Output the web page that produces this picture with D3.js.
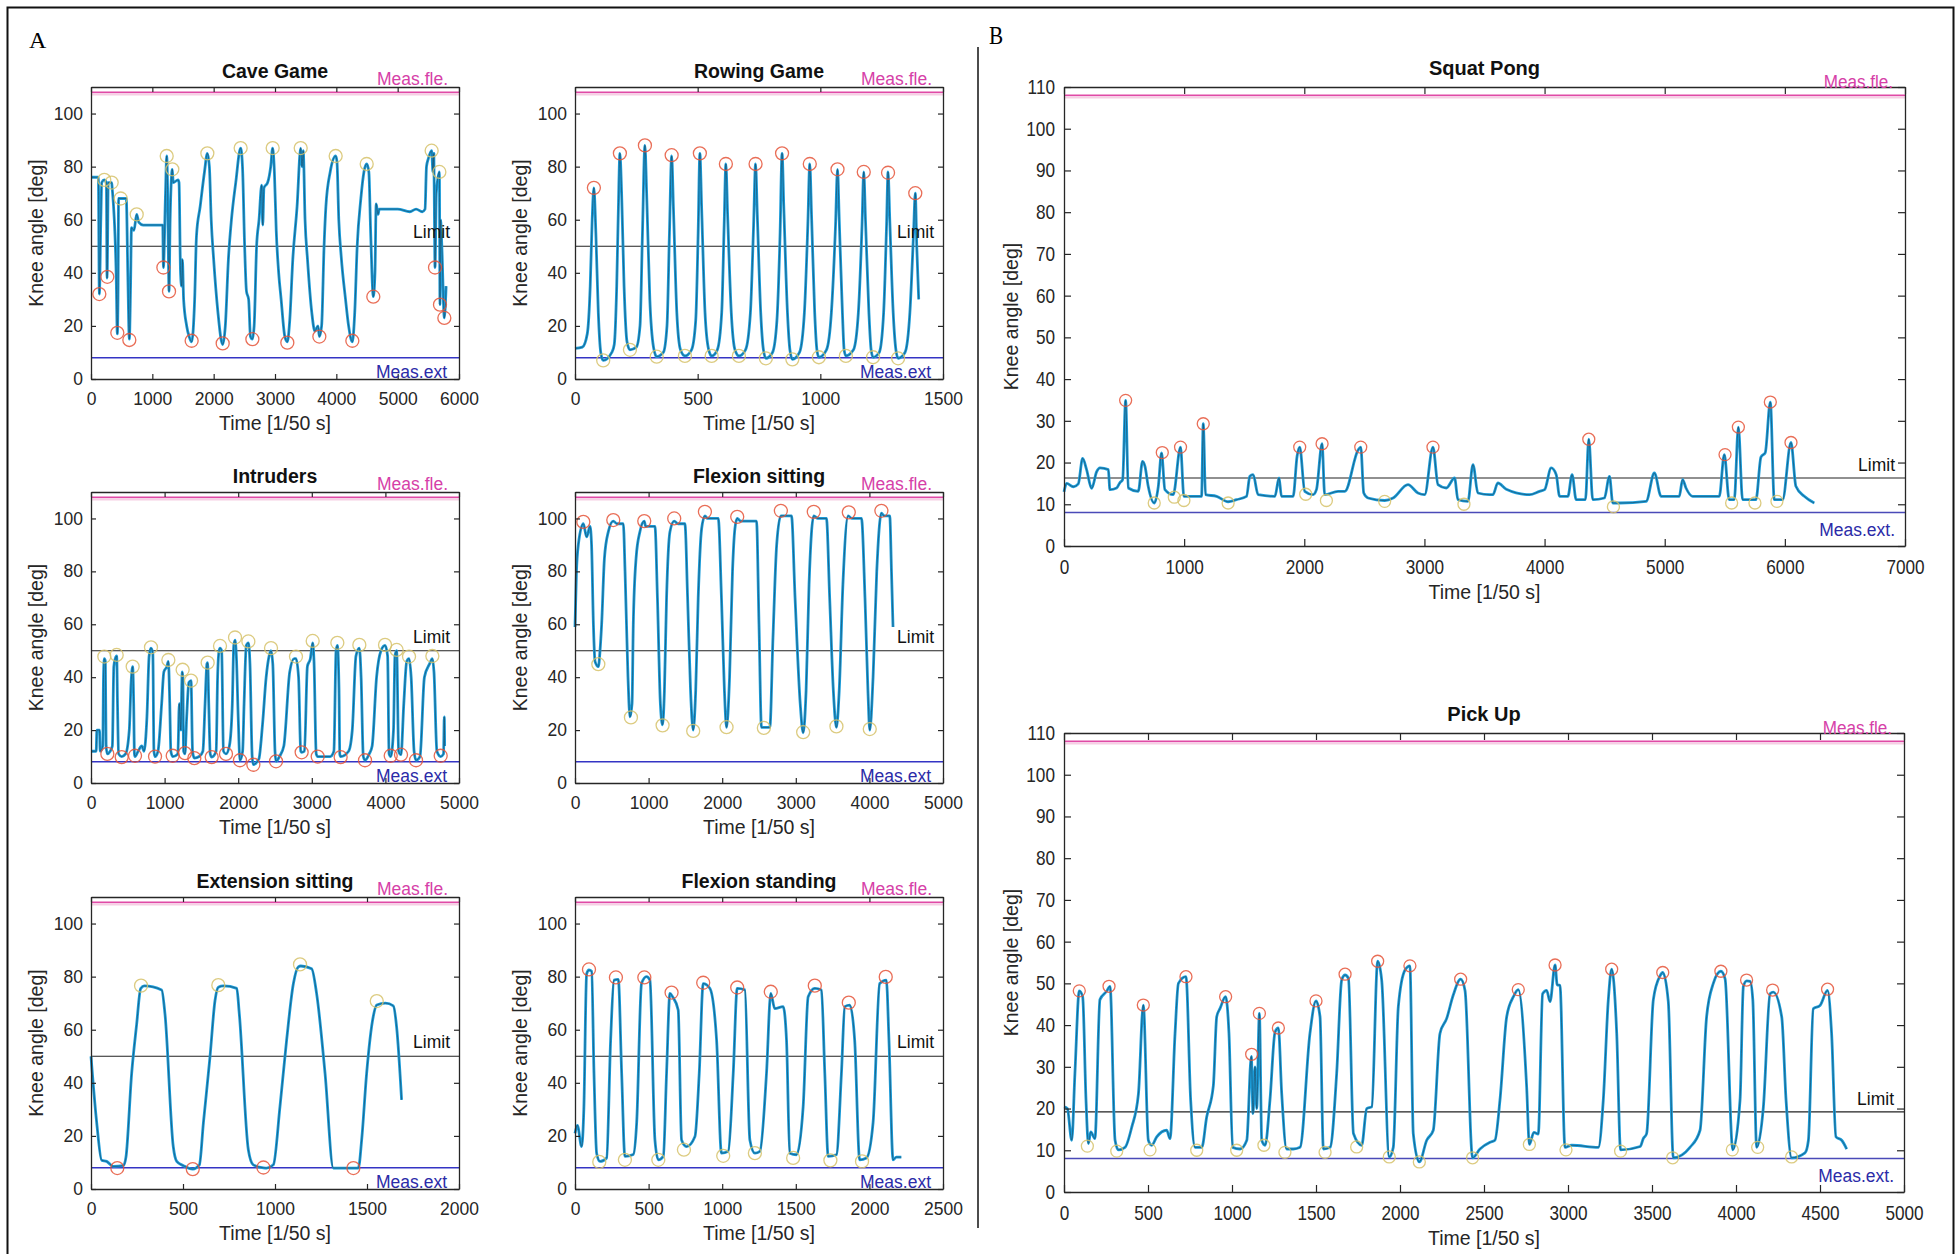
<!DOCTYPE html>
<meta charset="utf-8">
<title>Knee angle per game</title>

<style>
body{
	margin: 0;
	background: white;
}
</style>

<body>

<script src="https://d3js.org/d3.v7.min.js"></script>

<script>

// ---- data: [time in 1/50 s, knee angle in deg] ----

var measFle = 108;
var measExt = 8;

var titles = ['Cave Game', 'Rowing Game', 'Intruders', 'Flexion sitting', 'Extension sitting', 'Flexion standing', 'Squat Pong', 'Pick Up'];
var limits = [50, 50, 50, 50, 50, 50, 16.3, 19.2];

var ticks6000 = [0, 1000, 2000, 3000, 4000, 5000, 6000];
var ticks1500 = [0, 500, 1000, 1500];
var ticks5000 = [0, 1000, 2000, 3000, 4000, 5000];
var ticks2000 = [0, 500, 1000, 1500, 2000];
var ticks2500 = [0, 500, 1000, 1500, 2000, 2500];
var ticks7000 = [0, 1000, 2000, 3000, 4000, 5000, 6000, 7000];
var ticks5000b = [0, 500, 1000, 1500, 2000, 2500, 3000, 3500, 4000, 4500, 5000];
var yticksA = [0, 20, 40, 60, 80, 100];
var yticksB = [0, 10, 20, 30, 40, 50, 60, 70, 80, 90, 100, 110];

var caveGame = [[0,76],[120,76],[136,32],[160,60],[175,74],[217,75],[250,74],[262,38],[270,50],[280,74],[337,74],[345,72],[410,40],[429,17],[440,30],[450,68],[575,68],[600,40],[625,15],[645,35],[660,57],[700,56],[745,62],[780,59],[850,58],[1170,58],[1180,42],[1215,70],[1234,84],[1250,70],[1265,40],[1272,33],[1290,60],[1326,79],[1340,74],[1420,75],[1435,74],[1460,40],[1478,35],[1490,45],[1510,30],[1560,20],[1600,16],[1641,14],[1690,30],[1720,54],[1780,65],[1850,78],[1897,85],[1930,80],[1960,60],[2000,45],[2070,25],[2120,15],[2147,13],[2190,20],[2240,45],[2290,60],[2360,74],[2440,87],[2470,80],[2505,50],[2535,33],[2570,30],[2600,16],[2631,15],[2660,20],[2700,50],[2740,60],[2783,73],[2800,58],[2820,72],[2880,74],[2930,80],[2962,87],[2990,78],[3020,56],[3060,40],[3100,30],[3160,16],[3201,14],[3240,22],[3290,45],[3360,65],[3419,87],[3440,80],[3460,86],[3490,60],[3530,45],[3600,25],[3650,18],[3700,20],[3723,16],[3760,20],[3800,50],[3830,65],[3900,78],[3989,84],[4010,82],[4040,60],[4080,46],[4150,30],[4200,20],[4261,14],[4300,25],[4340,50],[4400,68],[4450,78],[4495,81],[4530,78],[4560,55],[4603,31],[4630,40],[4650,66],[4680,62],[4700,64],[5000,64],[5200,63],[5300,64],[5400,63],[5446,64],[5470,80],[5500,83],[5554,86],[5575,78],[5590,85],[5600,60],[5609,42],[5630,70],[5680,78],[5690,28],[5700,60],[5720,50],[5761,23],[5790,35]];
var caveGamePeaks = [[217,75],[337,74],[484,68],[745,62],[1234,84],[1326,79],[1897,85],[2440,87],[2962,87],[3419,87],[3989,84],[4495,81],[5554,86],[5680,78]];
var caveGameValleys = [[136,32],[266,38.5],[429,17.4],[625,14.7],[1180,42],[1272,33],[1641,14.4],[2147,13.4],[2631,15],[3201,13.7],[3723,16],[4261,14.4],[4603,31],[5609,42],[5690,28],[5761,23]];

var rowingGame = [[0,11.5],[30,12],[50,17],[62,35],[70,60],[77,72],[85,55],[95,25],[105,10],[115,7],[150,10],[160,13],[170,35],[177,65],[183,85],[190,70],[200,35],[212,14],[224,11],[250,12],[265,20],[275,55],[285,88],[292,70],[305,30],[320,12],[333,8.4],[360,10],[375,20],[385,55],[394,84],[401,65],[415,25],[430,11],[448,8.7],[475,11],[492,22],[502,55],[509,85],[516,65],[530,25],[545,11],[557,8.7],[580,11],[598,25],[608,58],[615,81],[622,62],[637,25],[652,11],[668,8.7],[695,11],[715,25],[728,58],[736,81],[743,62],[757,25],[768,11],[778,7.8],[805,10],[823,22],[836,55],[844,85],[851,65],[866,25],[876,11],[886,7.4],[915,10],[935,25],[949,58],[957,81],[964,62],[977,25],[986,11],[994,8.2],[1025,11],[1045,25],[1062,58],[1070,79],[1077,60],[1090,25],[1097,11],[1104,8.7],[1135,11],[1155,25],[1170,58],[1177,78],[1184,60],[1198,25],[1207,11],[1215,8.2],[1240,10],[1258,25],[1270,58],[1276,78],[1283,60],[1297,25],[1308,11],[1317,7.8],[1345,10],[1365,25],[1380,55],[1387,70],[1393,50],[1401,30]];
var rowingGamePeaks = [[77,72],[183,85],[285,88],[394,84.3],[509,85],[615,81],[736,81],[844,85],[957,81],[1070,79],[1177,78],[1276,77.7],[1387,70]];
var rowingGameValleys = [[115,7],[224,11],[333,8.4],[448,8.7],[557,8.7],[668,8.7],[778,7.8],[886,7.4],[994,8.2],[1104,8.7],[1215,8.2],[1317,7.8]];

var intruders = [[0,12],[70,12],[80,20],[115,20],[125,12],[160,14],[170,40],[181,47],[195,46],[205,14],[222,11],[260,12],[290,14],[310,44],[330,47],[349,48],[360,30],[375,11],[417,10],[470,11],[520,20],[545,38],[566,44],[580,30],[590,11],[598,10],[640,12],[690,14],[720,12],[760,25],[790,48],[815,51],[840,49],[855,12],[870,10],[910,12],[960,30],[990,42],[1030,44],[1051,46],[1070,30],[1085,12],[1110,10],[1180,11],[1200,30],[1220,20],[1240,42],[1248,40],[1258,12],[1277,11],[1300,25],[1330,38],[1359,38.7],[1380,12],[1404,9.4],[1470,10],[1520,12],[1550,30],[1575,45],[1585,45.5],[1600,30],[1620,11],[1640,9.8],[1700,12],[1720,40],[1740,50],[1753,51],[1775,50],[1800,12],[1834,11],[1880,14],[1920,30],[1940,52],[1957,54],[1975,48],[2000,25],[2024,8.6],[2060,12],[2080,30],[2110,52],[2138,53],[2160,45],[2190,10],[2206,7],[2280,9],[2330,22],[2380,40],[2420,48],[2446,50],[2470,45],[2500,12],[2514,8.2],[2560,10],[2620,14],[2700,42],[2760,47],[2785,47],[2820,40],[2850,12],[2862,11.6],[2900,12],[2940,44],[2980,47],[3012,53],[3030,46],[3060,11],[3080,10],[3250,10],[3300,12],[3330,50],[3347,52],[3370,35],[3380,11],[3392,10],[3500,12],[3550,20],[3600,48],[3646,51],[3670,40],[3700,10],[3723,8.6],[3780,11],[3820,14],[3880,40],[3940,50],[3995,52],[4030,48],[4050,11],[4072,10],[4110,20],[4130,48],[4153,50],[4180,12],[4212,10.7],[4250,30],[4290,46],[4321,47],[4350,40],[4390,12],[4416,8.6],[4470,10],[4530,40],[4600,45],[4638,47],[4660,42],[4700,12],[4751,10],[4790,11],[4800,25],[4805,14]];
var intrudersPeaks = [[181,47.8],[349,48.4],[566,44],[815,51.3],[1051,46.5],[1245,42.8],[1359,38.7],[1585,45.5],[1753,51.8],[1957,55],[2138,53.5],[2446,51],[2785,47.8],[3012,53.7],[3347,53],[3646,52.2],[3995,52.2],[4153,50.3],[4321,47.8],[4638,48]];
var intrudersValleys = [[222,11],[417,9.8],[598,10.3],[870,10],[1110,10.3],[1277,11.3],[1404,9.4],[1640,9.8],[1834,11],[2024,8.6],[2206,6.9],[2514,8.2],[2862,11.6],[3080,10],[3392,9.8],[3723,8.6],[4072,10.3],[4212,10.7],[4416,8.6],[4751,10.3]];

var flexionSitting = [[0,59],[20,80],[45,90],[113,98],[158,93],[204,97],[225,90],[250,60],[272,46],[317,44],[340,50],[362,60],[400,85],[453,95],[520,99],[570,98],[656,98],[680,80],[720,40],[747,25],[775,30],[792,60],[830,85],[882,95],[941,99],[960,97],[1086,97],[1120,70],[1160,30],[1190,22],[1215,35],[1244,70],[1290,95],[1348,99],[1400,98],[1493,98],[1530,70],[1570,35],[1606,20],[1640,35],[1674,70],[1720,96],[1765,101],[1800,100],[1946,100],[1990,70],[2030,35],[2059,21],[2100,40],[2140,80],[2172,96],[2204,100],[2250,99],[2466,99],[2500,60],[2534,21],[2647,21],[2690,55],[2740,90],[2797,101],[2850,101],[2941,101],[2990,70],[3060,30],[3100,19],[3140,35],[3180,75],[3244,101],[3300,100],[3416,100],[3460,70],[3510,35],[3552,21],[3590,35],[3640,75],[3711,101],[3760,100],[3892,100],[3940,70],[3980,35],[4005,20],[4050,40],[4100,80],[4163,102],[4200,101],[4276,101],[4300,80],[4321,59]];
var flexionSittingPeaks = [[113,98.7],[520,99.4],[941,99],[1348,100],[1765,102.5],[2204,100.6],[2797,102.9],[3244,102.5],[3720,102.3],[4163,102.9]];
var flexionSittingValleys = [[317,44.9],[760,24.8],[1190,21.8],[1606,19.7],[2059,21.1],[2566,20.8],[3100,19.2],[3552,21.4],[4005,20.4]];

var extensionSitting = [[0,50],[31,25],[58,10.8],[85,10.4],[121,8.5],[176,8.8],[190,12],[221,43.6],[248,62],[270,75.5],[290,76.5],[384,75],[402,66],[447,16],[466,10.4],[502,8.8],[553,7.5],[589,9.1],[611,25],[647,50],[674,71],[692,76],[720,76.5],[792,75.6],[806,66],[855,14.8],[882,9.1],[937,8],[955,7.9],[991,9.1],[1027,31],[1063,56],[1100,77.4],[1127,83.7],[1140,84],[1199,83],[1226,73.7],[1272,43.6],[1317,7.9],[1453,7.9],[1471,18.5],[1498,43.6],[1534,65],[1553,69.3],[1600,70],[1643,69],[1661,61],[1688,33.6]];
var extensionSittingPeaks = [[272,76.6],[692,76.8],[1136,84.6],[1553,70.8]];
var extensionSittingValleys = [[143,7.9],[553,7.5],[937,8.1],[1426,7.9]];

var flexionStanding = [[0,21],[16,24],[45,16],[60,30],[79,81],[95,82.5],[113,82],[129,43.6],[147,13.5],[170,10.4],[215,11.7],[242,56],[265,78.7],[294,79],[317,43.6],[339,12.3],[396,13],[419,25],[452,77.4],[486,80],[509,78.7],[543,18.5],[566,11],[600,12.3],[622,43.6],[645,73.7],[663,72.4],[701,67.4],[724,18.5],[758,16],[815,19.8],[844,43.6],[871,77.4],[916,75.6],[962,56],[995,13.5],[1041,14.2],[1075,43.6],[1102,75.6],[1154,75],[1188,18.5],[1222,13.5],[1256,14.2],[1301,43.6],[1330,73.7],[1357,68],[1414,68.7],[1437,56],[1459,13.5],[1505,12.9],[1550,31],[1584,72.4],[1629,75.6],[1674,75],[1697,43.6],[1720,12.3],[1776,12.9],[1810,43.6],[1833,68.7],[1867,69.3],[1900,56],[1934,11],[1980,11.7],[2025,25],[2070,77.4],[2115,78.7],[2133,56],[2161,11],[2183,12],[2217,12]];
var flexionStandingPeaks = [[95,82.7],[278,79.7],[471,79.7],[656,74],[871,77.7],[1102,75.9],[1330,74.3],[1629,76.6],[1860,70.2],[2111,79.9]];
var flexionStandingValleys = [[165,10.2],[339,11],[566,11],[740,14.8],[1007,12.5],[1222,13.5],[1482,11.7],[1735,10.8],[1950,10.4]];

var squatPong = [[0,13],[22,15],[78,14.2],[119,14.9],[155,21],[188,18.3],[230,13.8],[272,17.8],[299,18.7],[369,18.3],[382,13.5],[438,13.9],[466,15.2],[488,15.9],[513,34.9],[535,13.9],[618,13.1],[654,20.3],[674,19.1],[701,14.3],[751,10.3],[785,14.3],[812,22.3],[840,13.5],[909,12.3],[970,23.7],[998,11.9],[1075,11.9],[1145,11.9],[1159,29.3],[1178,12.3],[1270,11.9],[1366,10.6],[1436,11.1],[1519,11.9],[1547,16.7],[1574,17.1],[1616,12.3],[1755,11.9],[1790,16.3],[1810,11.9],[1907,11.9],[1940,21.5],[1962,23.7],[2004,13.1],[2073,12.3],[2101,13.5],[2148,24.5],[2170,12.3],[2281,13.1],[2337,13.1],[2448,23],[2470,23.7],[2495,12.7],[2531,11.5],[2669,10.9],[2739,11.5],[2863,14.7],[2946,12.7],[3002,12.3],[3071,23.7],[3113,14.7],[3182,13.9],[3251,16.3],[3279,11.1],[3362,10.7],[3404,19.5],[3445,12.7],[3542,12.3],[3570,12.3],[3611,15.1],[3681,13.6],[3875,12.3],[3958,13.1],[4000,13.5],[4055,18.7],[4097,17.1],[4125,11.9],[4194,11.9],[4229,17.1],[4263,11.1],[4340,11.1],[4368,25.6],[4401,11.1],[4498,11.5],[4540,16.7],[4568,10.3],[4623,10.3],[4845,10.7],[4914,17.5],[4970,11.9],[5121,11.9],[5149,15.9],[5177,13.9],[5232,11.9],[5454,11.9],[5496,21.9],[5537,11.1],[5579,11.1],[5613,28.5],[5648,11.1],[5759,11.1],[5801,21.3],[5837,22.4],[5879,34.5],[5912,11.1],[5981,11.1],[6051,24.8],[6092,14.3],[6162,11.9],[6245,10.3]];
var squatPongPeaks = [[513,34.9],[818,22.4],[970,23.7],[1159,29.3],[1962,23.7],[2148,24.5],[2470,23.7],[3071,23.7],[4368,25.6],[5502,21.9],[5613,28.5],[5879,34.5],[6051,24.8]];
var squatPongValleys = [[751,10.3],[918,11.7],[998,10.9],[1366,10.3],[2012,12.4],[2184,10.9],[2669,10.7],[3329,10],[4573,9.4],[5557,10.3],[5751,10.3],[5934,10.7]];

var pickUp = [[0,20.4],[20,20],[46,12.4],[65,28.4],[91,48.2],[111,46.8],[131,22],[145,11.6],[159,14.4],[184,12.8],[214,46.1],[254,48.1],[274,49.3],[304,12.4],[324,10.1],[363,10.7],[403,15.5],[443,23.5],[472,44.8],[502,12.4],[522,11.2],[552,13.2],[611,14.8],[631,12.8],[661,38],[681,50],[726,51.6],[754,22],[780,10.7],[820,10.7],[849,17.9],[889,25.5],[909,42],[929,44],[962,46.8],[982,38],[1004,10.7],[1048,10.3],[1088,12.4],[1115,32.5],[1125,18.8],[1137,30],[1147,20],[1163,42.8],[1177,12.4],[1197,11.2],[1226,22],[1256,38.3],[1276,39.3],[1296,23.5],[1325,10.3],[1365,10.3],[1405,10.7],[1464,38],[1500,45.8],[1524,42],[1544,10.3],[1584,10.7],[1623,28.4],[1653,50.8],[1673,52],[1693,51.2],[1723,14],[1772,11.2],[1802,20],[1832,20.4],[1867,55.3],[1891,50.8],[1936,8.4],[1960,10.7],[1990,44.4],[2030,53.2],[2059,54.2],[2079,14],[2115,7.2],[2159,12.4],[2198,14.8],[2238,38],[2278,41.6],[2317,47.2],[2361,51],[2387,48.3],[2432,8.2],[2476,10.3],[2536,11.9],[2565,12.4],[2595,22],[2635,42],[2675,46.8],[2704,48.5],[2754,25.1],[2770,11.4],[2797,14.3],[2823,13.9],[2849,47.5],[2873,48.3],[2893,45.6],[2923,54.4],[2936,49.6],[2952,49.6],[2982,10.7],[3022,11.2],[3181,10.7],[3210,22],[3240,46.1],[3260,53.4],[3290,38],[3313,10.1],[3430,10.9],[3448,12.8],[3468,14],[3508,46.1],[3548,51.8],[3564,52.6],[3597,45.6],[3627,8.2],[3726,10.7],[3786,14.8],[3825,42],[3865,50],[3910,52.9],[3935,51.1],[3981,10.1],[4024,22],[4044,49.3],[4064,50.6],[4084,50.5],[4100,46.1],[4123,10.7],[4163,20.4],[4203,47.5],[4222,47.9],[4272,42],[4298,22],[4331,8.2],[4411,9.4],[4431,12.4],[4460,43.9],[4500,44.7],[4545,48.3],[4569,38],[4595,13.2],[4629,12.4],[4659,10.3]];
var pickUpPeaks = [[91,48.2],[268,49.3],[472,44.8],[726,51.6],[962,46.8],[1117,33],[1163,42.8],[1276,39.3],[1500,45.8],[1673,52.2],[1867,55.3],[2059,54.2],[2361,51],[2704,48.5],[2923,54.4],[3260,53.4],[3564,52.6],[3910,52.9],[4063,50.8],[4218,48.4],[4545,48.6]];
var pickUpValleys = [[139,11],[314,9.8],[512,10.1],[790,10],[1028,10],[1190,11.2],[1315,9.5],[1554,9.5],[1742,10.8],[1936,8.4],[2115,7.2],[2432,8.2],[2770,11.4],[2988,10.1],[3313,9.8],[3623,8.2],[3978,10.1],[4129,10.7],[4331,8.4]];


// ---- layout and styles ----

var width = 1959;
var height = 1254;

var red = '#e5553a';
var yellow = '#d6c26a';
var fontfamily = '"Liberation Sans", Arial, sans-serif';

var panels = [
	{series: caveGame, peaks: caveGamePeaks, valleys: caveGameValleys, xticks: ticks6000, left: 91, right: 459, top: 87, bottom: 379, peakcolor: yellow, valleycolor: red},
	{series: rowingGame, peaks: rowingGamePeaks, valleys: rowingGameValleys, xticks: ticks1500, left: 575, right: 943, top: 87, bottom: 379, peakcolor: red, valleycolor: yellow},
	{series: intruders, peaks: intrudersPeaks, valleys: intrudersValleys, xticks: ticks5000, left: 91, right: 459, top: 492, bottom: 783, peakcolor: yellow, valleycolor: red},
	{series: flexionSitting, peaks: flexionSittingPeaks, valleys: flexionSittingValleys, xticks: ticks5000, left: 575, right: 943, top: 492, bottom: 783, peakcolor: red, valleycolor: yellow},
	{series: extensionSitting, peaks: extensionSittingPeaks, valleys: extensionSittingValleys, xticks: ticks2000, left: 91, right: 459, top: 897, bottom: 1189, peakcolor: yellow, valleycolor: red},
	{series: flexionStanding, peaks: flexionStandingPeaks, valleys: flexionStandingValleys, xticks: ticks2500, left: 575, right: 943, top: 897, bottom: 1189, peakcolor: red, valleycolor: yellow},
	{series: squatPong, peaks: squatPongPeaks, valleys: squatPongValleys, xticks: ticks7000, left: 1064, right: 1905, top: 87, bottom: 546, peakcolor: red, valleycolor: yellow, big: true},
	{series: pickUp, peaks: pickUpPeaks, valleys: pickUpValleys, xticks: ticks5000b, left: 1064, right: 1904, top: 733, bottom: 1192, peakcolor: red, valleycolor: yellow, big: true}
];

var svg = d3.select('body')
	.append('svg')
	.attr('width', width)
	.attr('height', height)
	.style('font-family', fontfamily);

// outer frame and divider
svg.append('rect')
	.attr('x', 7.5).attr('y', 7.5)
	.attr('width', 1946).attr('height', 1256)
	.attr('fill', 'none')
	.attr('stroke', '#111')
	.attr('stroke-width', 2);

svg.append('line')
	.attr('x1', 978).attr('x2', 978)
	.attr('y1', 47).attr('y2', 1228)
	.attr('stroke', '#111')
	.attr('stroke-width', 1.5);

svg.append('text')
	.attr('x', 29).attr('y', 48)
	.attr('font-family', '"Liberation Serif", "Times New Roman", serif')
	.attr('font-size', 24)
	.text('A');

svg.append('text')
	.attr('x', 0).attr('y', 0)
	.attr('transform', 'translate(989,44) scale(0.85,1)')
	.attr('font-family', '"Liberation Serif", "Times New Roman", serif')
	.attr('font-size', 25)
	.text('B');

// narrow the text of the B panels, which look condensed in the figure
function squeeze(sel, sx){
	sel.each(function(){
		var t = d3.select(this);
		var x0 = +t.attr('x') || 0;
		var y0 = +t.attr('y') || 0;
		t.attr('x', 0).attr('y', 0)
			.attr('transform', 'translate(' + x0 + ',' + y0 + ') scale(' + sx + ',1)');
	});
}

function drawpanel(p, i){
	var big = !!p.big;
	var x = d3.scaleLinear()
		.domain([0, p.xticks[p.xticks.length - 1]])
		.range([p.left, p.right]);
	var y = d3.scaleLinear()
		.domain([0, 110])
		.range([p.bottom, p.top]);

	var g = svg.append('g');

	// reference lines
	g.append('line')
		.attr('x1', p.left).attr('x2', p.right)
		.attr('y1', y(measFle) + 2.5).attr('y2', y(measFle) + 2.5)
		.attr('stroke', '#f6cfe3').attr('stroke-width', 1.5);
	g.append('line')
		.attr('x1', p.left).attr('x2', p.right)
		.attr('y1', y(measFle)).attr('y2', y(measFle))
		.attr('stroke', '#e04aa6').attr('stroke-width', 1.8);
	g.append('line')
		.attr('x1', p.left).attr('x2', p.right)
		.attr('y1', y(measExt)).attr('y2', y(measExt))
		.attr('stroke', big ? '#4a4ab8' : '#3434c4').attr('stroke-width', 1.5);
	g.append('line')
		.attr('x1', p.left).attr('x2', p.right)
		.attr('y1', y(limits[i])).attr('y2', y(limits[i]))
		.attr('stroke', '#222').attr('stroke-width', 1.2);

	// knee angle trace: blue raw with a dark thin filtered line on top
	var line = d3.line()
		.x(function(d){ return x(d[0]); })
		.y(function(d){ return y(d[1]); })
		.curve(d3.curveMonotoneX);

	g.append('path')
		.datum(p.series)
		.attr('d', line)
		.attr('fill', 'none')
		.attr('stroke', '#1b9ddb')
		.attr('stroke-width', 2.8)
		.attr('stroke-linejoin', 'round');
	g.append('path')
		.datum(p.series)
		.attr('d', line)
		.attr('fill', 'none')
		.attr('stroke', '#1d3646')
		.attr('stroke-opacity', 0.75)
		.attr('stroke-width', 0.7)
		.attr('stroke-linejoin', 'round');

	// detected extrema
	var r = big ? 6 : 6.5;
	g.selectAll('circle.peak')
		.data(p.peaks)
		.enter()
		.append('circle')
		.attr('class', 'peak')
		.attr('cx', function(d){ return x(d[0]); })
		.attr('cy', function(d){ return y(d[1]); })
		.attr('r', r)
		.attr('fill', 'none')
		.attr('stroke', p.peakcolor)
		.attr('stroke-opacity', 0.85)
		.attr('stroke-width', 1.3);
	g.selectAll('circle.valley')
		.data(p.valleys)
		.enter()
		.append('circle')
		.attr('class', 'valley')
		.attr('cx', function(d){ return x(d[0]); })
		.attr('cy', function(d){ return y(d[1]); })
		.attr('r', r)
		.attr('fill', 'none')
		.attr('stroke', p.valleycolor)
		.attr('stroke-opacity', 0.85)
		.attr('stroke-width', 1.3);

	// axes box with inner ticks on all four sides
	var ticklen = big ? 7 : 5;
	var yticks = big ? yticksB : yticksA;
	var ticksize = big ? 20 : 17.5;
	var plain = d3.format('d');

	var axes = [
		{axis: d3.axisBottom(x).tickValues(p.xticks).tickFormat(plain).tickPadding(14), at: 'translate(0,' + p.bottom + ')', labels: true},
		{axis: d3.axisTop(x).tickValues(p.xticks).tickFormat(''), at: 'translate(0,' + p.top + ')', labels: false},
		{axis: d3.axisLeft(y).tickValues(yticks).tickFormat(plain).tickPadding(big ? 9 : 8), at: 'translate(' + p.left + ',0)', labels: true},
		{axis: d3.axisRight(y).tickValues(yticks).tickFormat(''), at: 'translate(' + p.right + ',0)', labels: false}
	];

	axes.forEach(function(a){
		a.axis.tickSizeInner(-ticklen).tickSizeOuter(0);
		var ga = g.append('g')
			.attr('transform', a.at)
			.call(a.axis)
			.attr('font-family', fontfamily)
			.attr('font-size', ticksize);
		ga.select('.domain').attr('stroke', '#262626').attr('stroke-width', 1.3);
		ga.selectAll('.tick line').attr('stroke', '#262626').attr('stroke-width', 1.2);
		ga.selectAll('.tick text').attr('fill', '#262626');
		if (big && a.labels) squeeze(ga.selectAll('.tick text'), 0.86);
	});

	// titles and labels
	var cx = (p.left + p.right) / 2;
	var cy = (p.top + p.bottom) / 2;

	g.append('text')
		.attr('x', cx)
		.attr('y', p.top - (big ? 12 : 9))
		.attr('text-anchor', 'middle')
		.attr('font-weight', 'bold')
		.attr('font-size', big ? 20 : 19.5)
		.attr('fill', '#111')
		.text(titles[i]);

	g.append('text')
		.attr('x', cx)
		.attr('y', p.bottom + (big ? 53 : 51))
		.attr('text-anchor', 'middle')
		.attr('font-size', 19.5)
		.attr('fill', '#262626')
		.text('Time [1/50 s]');

	g.append('text')
		.attr('transform', 'translate(' + (p.left - (big ? 46 : 48)) + ',' + cy + ') rotate(-90)')
		.attr('text-anchor', 'middle')
		.attr('font-size', 19.5)
		.attr('fill', '#262626')
		.text('Knee angle [deg]');

	var fle = g.append('text')
		.attr('x', p.right - (big ? 12 : 11))
		.attr('y', big ? p.top + 1 : p.top - 2)
		.attr('text-anchor', 'end')
		.attr('font-size', big ? 19 : 17.5)
		.attr('fill', '#d63fa8')
		.text('Meas.fle.');

	var ext = g.append('text')
		.attr('x', p.right - (big ? 10 : 12))
		.attr('y', big ? p.bottom - 10 : p.bottom - 1)
		.attr('text-anchor', 'end')
		.attr('font-size', big ? 19 : 17.5)
		.attr('fill', '#2b2ba8')
		.text(big ? 'Meas.ext.' : 'Meas.ext');

	var lim = g.append('text')
		.attr('x', p.right - (big ? 10 : 9))
		.attr('y', y(limits[i]) - (big ? 7 : 8))
		.attr('text-anchor', 'end')
		.attr('font-size', big ? 19 : 17.5)
		.attr('fill', '#111')
		.text('Limit');

	if (big){
		squeeze(fle, 0.9);
		squeeze(ext, 0.92);
		squeeze(lim, 0.92);
	}
}

panels.forEach(drawpanel);

</script>
</body>
